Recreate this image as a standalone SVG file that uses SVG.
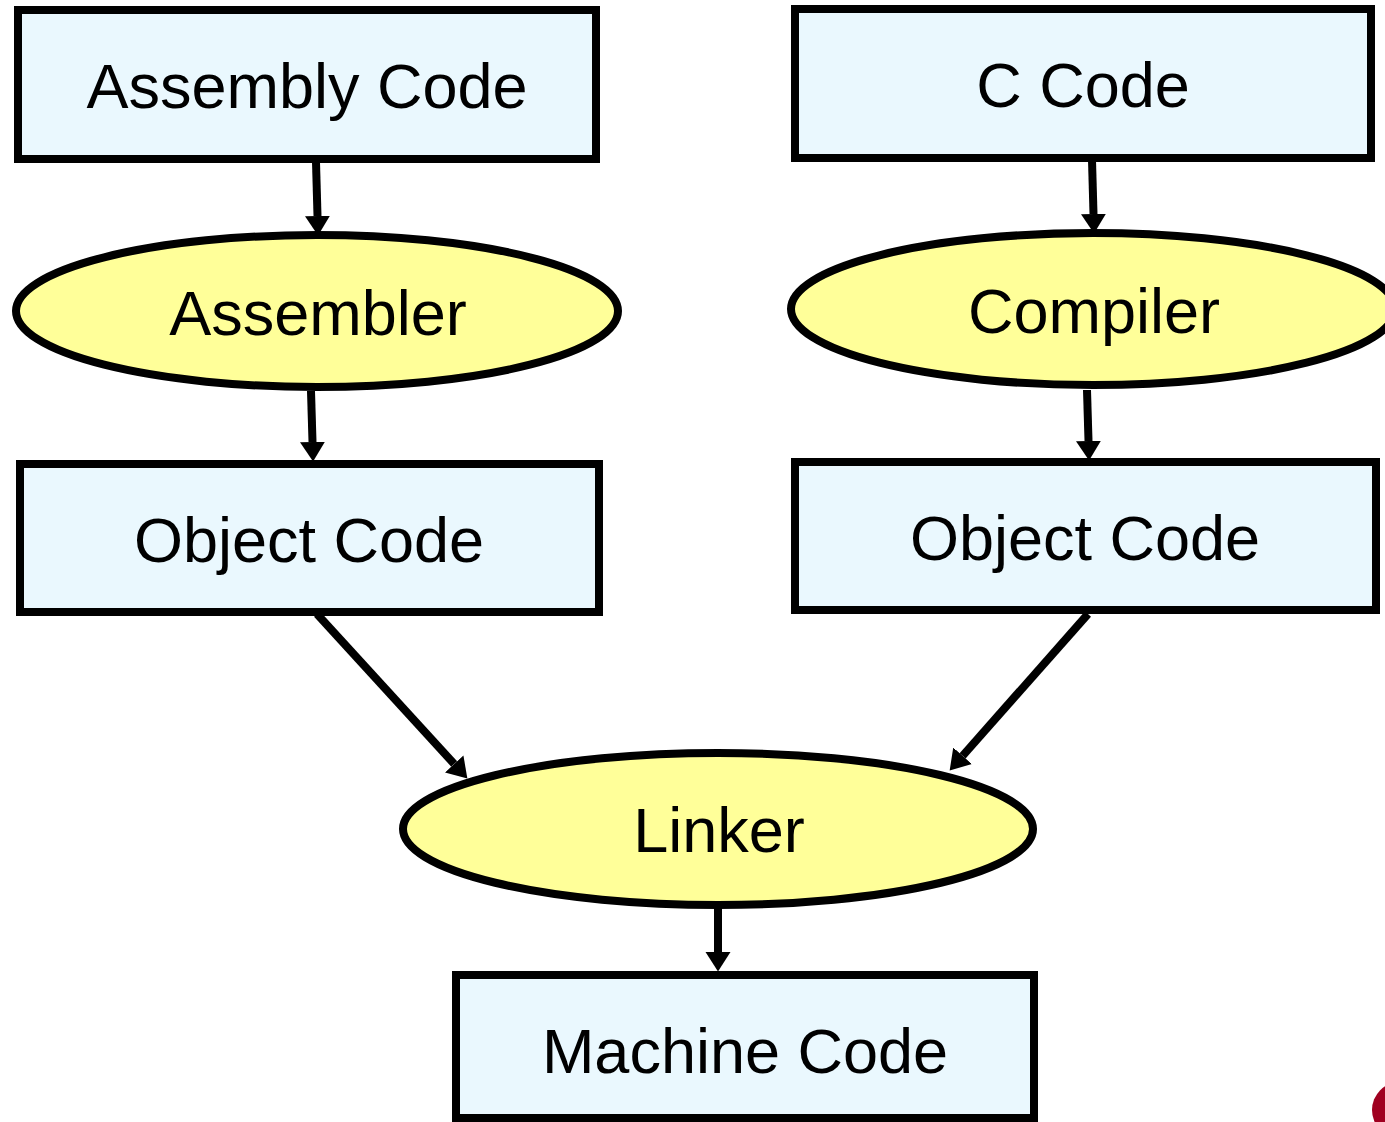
<svg xmlns="http://www.w3.org/2000/svg" width="1385" height="1122" viewBox="0 0 1385 1122">
<defs>
<style>
.box{fill:#eaf8fe;stroke:#000;stroke-width:8}
.proc{fill:#ffff99;stroke:#000;stroke-width:8}
.lbl{font-family:"Liberation Sans",Arial,sans-serif;font-size:63px;fill:#000;text-anchor:middle}
.edge{stroke:#000;stroke-width:8;fill:none}
</style>
<marker id="ah" markerUnits="userSpaceOnUse" markerWidth="20" markerHeight="26" viewBox="0 0 20 26" refX="0" refY="13" orient="auto">
<path d="M0,0.5 L19.5,13 L0,25.5 Z" fill="#000"/>
</marker>
</defs>
<rect width="1385" height="1122" fill="#fff"/>
<g id="connectors">
<line class="edge" x1="316" y1="162" x2="317.5" y2="216" marker-end="url(#ah)"/>
<line class="edge" x1="311" y1="391" x2="312.5" y2="442" marker-end="url(#ah)"/>
<line class="edge" x1="1092" y1="160" x2="1093.5" y2="214" marker-end="url(#ah)"/>
<line class="edge" x1="1087" y1="390" x2="1088.5" y2="441" marker-end="url(#ah)"/>
<line class="edge" x1="317" y1="614" x2="454.2" y2="764" marker-end="url(#ah)"/>
<line class="edge" x1="1088" y1="614" x2="962.6" y2="755.8" marker-end="url(#ah)"/>
<line class="edge" x1="718" y1="908" x2="718" y2="952" marker-end="url(#ah)"/>
</g>
<g id="assembly-code">
<rect class="box" x="18" y="10" width="578" height="149"/>
<text class="lbl" x="307" y="108">Assembly Code</text>
</g>
<g id="c-code">
<rect class="box" x="795" y="9" width="576" height="149"/>
<text class="lbl" x="1083" y="107">C Code</text>
</g>
<g id="assembler">
<ellipse class="proc" cx="317" cy="311" rx="301" ry="76"/>
<text class="lbl" x="318" y="335">Assembler</text>
</g>
<g id="compiler">
<ellipse class="proc" cx="1093" cy="309" rx="302" ry="76"/>
<text class="lbl" x="1094" y="333">Compiler</text>
</g>
<g id="object-code-left">
<rect class="box" x="20" y="464" width="579" height="148"/>
<text class="lbl" x="309" y="562">Object Code</text>
</g>
<g id="object-code-right">
<rect class="box" x="795" y="462" width="581" height="148"/>
<text class="lbl" x="1085" y="560">Object Code</text>
</g>
<g id="linker">
<ellipse class="proc" cx="718" cy="829" rx="315" ry="76"/>
<text class="lbl" x="719" y="852">Linker</text>
</g>
<g id="machine-code">
<rect class="box" x="456" y="975" width="578" height="143"/>
<text class="lbl" x="745" y="1073">Machine Code</text>
</g>
<circle cx="1400" cy="1110" r="28" fill="#a00020"/>
</svg>
